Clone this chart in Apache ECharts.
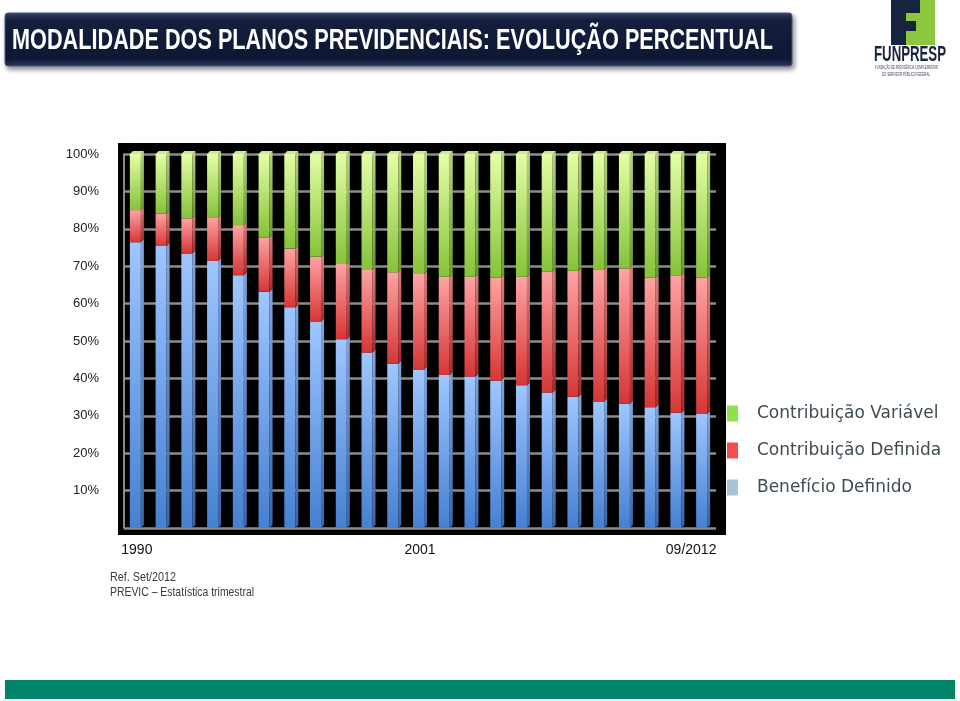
<!DOCTYPE html>
<html>
<head>
<meta charset="utf-8">
<title>Modalidade dos planos previdenciais</title>
<script src="https://cdn.jsdelivr.net/npm/echarts@6/dist/echarts.min.js"></script>
<style>
  html, body { margin: 0; padding: 0; background: #fff; }
  #chart { width: 960px; height: 701px; }
</style>
</head>
<body>
<div id="chart"></div>
<script>
// anos 1990..2011 e 09/2012
var categorias = ['1990', '1991', '1992', '1993', '1994', '1995', '1996', '1997', '1998', '1999', '2000',
  '2001', '2002', '2003', '2004', '2005', '2006', '2007', '2008', '2009', '2010', '2011', '09/2012']
var rotulosX = ['1990', '2001', '09/2012']
var rotulosY = ['10%', '20%', '30%', '40%', '50%', '60%', '70%', '80%', '90%', '100%']

// percentuais
var beneficioDefinido = [76.4, 75.4, 73.4, 71.4, 67.6, 63.2, 59.0, 55.2, 50.5, 46.9, 43.9, 42.4,
  40.9, 40.5, 39.4, 38.2, 36.2, 35.1, 33.8, 33.2, 32.3, 30.8, 30.5]
var contribuicaoDefinida = [8.6, 8.7, 9.4, 11.7, 13.4, 14.5, 15.7, 17.3, 20.1, 22.1, 24.5, 25.5,
  26.3, 26.7, 27.6, 29.0, 32.3, 33.7, 35.4, 36.2, 34.7, 36.8, 36.5]
var contribuicaoVariavel = [15.0, 15.9, 17.2, 16.9, 19.0, 22.3, 25.3, 27.5, 29.4, 31.0, 31.6, 32.1,
  32.8, 32.8, 33.0, 32.8, 31.5, 31.2, 30.8, 30.6, 33.0, 32.4, 33.0]

function grad(top, bottom) {
  return new echarts.graphic.LinearGradient(0, 0, 0, 1, [
    { offset: 0, color: top },
    { offset: 1, color: bottom }
  ])
}

// escala horizontal para o texto caber na largura (fontes estreitas nao existem aqui)
var ctx = document.createElement('canvas').getContext('2d')
function fit(text, font, width) {
  ctx.font = font
  return width / ctx.measureText(text).width
}

function texto(txt, x, y, font, width, fill) {
  return {
    type: 'text',
    x: x,
    y: y,
    scaleX: fit(txt, font, width),
    style: { text: txt, fill: fill, font: font, textVerticalAlign: 'middle' }
  }
}

// empilhamento: [indice, base, topo]
function empilha(valores, bases) {
  return valores.map(function (v, i) {
    return [i, bases[i], bases[i] + v]
  })
}
var zeros = categorias.map(function () { return 0 })
var topoBD = beneficioDefinido.map(function (v, i) { return v })
var topoCD = contribuicaoDefinida.map(function (v, i) { return v + topoBD[i] })

// barra com efeito 3d (frente + lateral + tampa)
var FRENTE = 11
var LADO = 3
function barra3d(cores, tampa) {
  return function (params, api) {
    var base = api.coord([api.value(0), api.value(1)])
    var topo = api.coord([api.value(0), api.value(2)])
    var x0 = base[0] - (FRENTE + LADO) / 2
    var x1 = x0 + FRENTE
    var filhos = [
      {
        type: 'rect',
        shape: { x: x0, y: topo[1], width: FRENTE, height: base[1] - topo[1] },
        style: { fill: grad(cores[0], cores[1]) }
      },
      {
        type: 'polygon',
        shape: { points: [[x1, topo[1]], [x1 + LADO, topo[1] - LADO], [x1 + LADO, base[1] - LADO], [x1, base[1]]] },
        style: { fill: grad(cores[2], cores[3]) }
      }
    ]
    if (tampa) {
      filhos.push({
        type: 'polygon',
        shape: { points: [[x0, topo[1]], [x0 + LADO, topo[1] - LADO], [x1 + LADO, topo[1] - LADO], [x1, topo[1]]] },
        style: { fill: tampa }
      })
    }
    return { type: 'group', children: filhos }
  }
}

var tituloFonte = 'bold 29px "Liberation Sans"'
var titulo = 'MODALIDADE DOS PLANOS PREVIDENCIAIS: EVOLUÇÃO PERCENTUAL'

var myChart = echarts.init(document.getElementById('chart'))

var options = {
  backgroundColor: '#ffffff',
  animation: false,
  grid: { left: 124, top: 154, width: 592, height: 374 },
  legend: {
    orient: 'vertical',
    left: 727,
    top: 405,
    padding: 0,
    itemWidth: 11,
    itemHeight: 16,
    itemGap: 20,
    selectedMode: false,
    textStyle: {
      fontFamily: 'DejaVu Sans',
      fontSize: 17,
      color: '#3d4b52',
      padding: [0, 0, 0, 14]
    },
    data: [
      { name: 'Contribuição Variável', icon: 'rect', itemStyle: { color: '#8ee04e' } },
      { name: 'Contribuição Definida', icon: 'rect', itemStyle: { color: '#f04e50' } },
      { name: 'Benefício Definido', icon: 'rect', itemStyle: { color: '#a9c3d2' } }
    ]
  },
  graphic: [
    // faixa do titulo
    {
      type: 'rect',
      shape: { x: 5, y: 13, width: 787, height: 53, r: 3 },
      style: {
        fill: new echarts.graphic.LinearGradient(0, 0, 0, 1, [
          { offset: 0, color: '#34456b' },
          { offset: 0.15, color: '#141f3d' },
          { offset: 0.85, color: '#0e1834' },
          { offset: 1, color: '#2a3a5e' }
        ]),
        stroke: '#4a5a7c',
        lineWidth: 1,
        shadowBlur: 5,
        shadowOffsetX: 2,
        shadowOffsetY: 3,
        shadowColor: 'rgba(0,0,0,0.45)'
      }
    },
    texto(titulo, 12, 41, tituloFonte, 761, '#ffffff'),
    // logo
    { type: 'rect', shape: { x: 891, y: 0, width: 15, height: 45 }, style: { fill: '#16243f' } },
    { type: 'rect', shape: { x: 906, y: 0, width: 14, height: 13 }, style: { fill: '#16243f' } },
    { type: 'rect', shape: { x: 920, y: 0, width: 15, height: 45 }, style: { fill: '#8dc63f' } },
    { type: 'rect', shape: { x: 906, y: 13, width: 14, height: 32 }, style: { fill: '#8dc63f' } },
    { type: 'rect', shape: { x: 906, y: 21, width: 10, height: 10 }, style: { fill: '#16243f' } },
    texto('FUNPRESP', 874, 55, 'bold 22px "Liberation Sans"', 72, '#16243f'),
    texto('FUNDAÇÃO DE PREVIDÊNCIA COMPLEMENTAR', 875, 68, '5px "Liberation Sans"', 63, '#3a4660'),
    texto('DO SERVIDOR PÚBLICO FEDERAL', 882, 75, '5px "Liberation Sans"', 48, '#3a4660'),
    // fundo preto da area do grafico
    {
      type: 'rect',
      z: -10,
      shape: { x: 118, y: 143, width: 608, height: 392 },
      style: { fill: '#000000' }
    },
    // fonte dos dados
    texto('Ref. Set/2012', 110, 577, '13px "Liberation Sans"', 66, '#3a3a3a'),
    texto('PREVIC – Estatística trimestral', 110, 592, '13px "Liberation Sans"', 144, '#3a3a3a'),
    // faixa verde do rodape
    {
      type: 'rect',
      shape: { x: 5, y: 680, width: 950, height: 19 },
      style: { fill: '#00846a' }
    }
  ],
  xAxis: {
    type: 'category',
    data: categorias.map(function (c) {
      if (c === '09/2012') return { value: c, textStyle: { padding: [0, 24, 0, 0] } }
      return c
    }),
    axisLine: { show: false },
    axisTick: { show: false },
    axisLabel: {
      interval: function (i, v) { return rotulosX.indexOf(v) >= 0 },
      margin: 15,
      fontFamily: 'Liberation Sans',
      fontSize: 14,
      color: '#111'
    }
  },
  yAxis: {
    type: 'value',
    min: 0,
    max: 100,
    interval: 10,
    axisLine: { show: true, lineStyle: { color: '#8a8a8a', width: 2 } },
    axisTick: { show: false },
    axisLabel: {
      margin: 25,
      fontFamily: 'Liberation Sans',
      fontSize: 13,
      color: '#222',
      formatter: function (v) {
        var i = v / 10 - 1
        return i >= 0 ? rotulosY[i] : ''
      }
    },
    splitLine: { show: true, lineStyle: { color: '#8c8c8c', width: 2.5 } }
  },
  series: [
    {
      name: 'Benefício Definido',
      type: 'custom',
      renderItem: barra3d(['#9fc6ff', '#4680d2', '#7fa6dc', '#3a66a8']),
      encode: { x: 0, y: [1, 2] },
      data: empilha(beneficioDefinido, zeros)
    },
    {
      name: 'Contribuição Definida',
      type: 'custom',
      renderItem: barra3d(['#ffa3a3', '#d63636', '#d88080', '#a82a2a']),
      encode: { x: 0, y: [1, 2] },
      data: empilha(contribuicaoDefinida, topoBD)
    },
    {
      name: 'Contribuição Variável',
      type: 'custom',
      renderItem: barra3d(['#e4ffa6', '#86c23a', '#b8d280', '#6a9a2e'], '#cfe89a'),
      encode: { x: 0, y: [1, 2] },
      data: empilha(contribuicaoVariavel, topoCD)
    }
  ]
}

myChart.setOption(options)
</script>
</body>
</html>
